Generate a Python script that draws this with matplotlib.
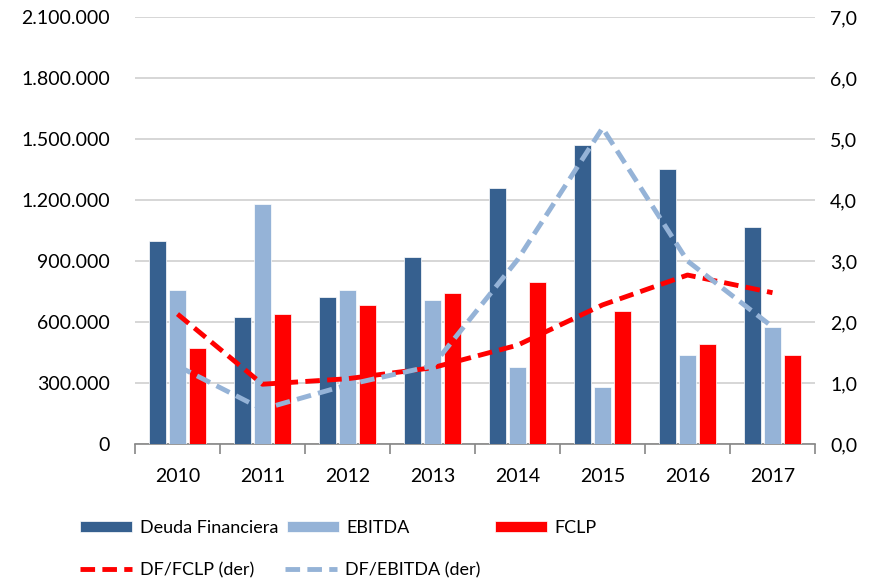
import matplotlib
matplotlib.use("Agg")
import matplotlib.pyplot as plt
import numpy as np
from matplotlib.ticker import FuncFormatter

plt.rcParams['font.family'] = ['Lato', 'DejaVu Sans']

years = ['2010', '2011', '2012', '2013', '2014', '2015', '2016', '2017']
deuda = [1000000, 625000, 722000, 920000, 1260000, 1470000, 1353000, 1067000]
ebitda = [758000, 1180000, 757000, 708000, 380000, 282000, 438000, 575000]
fclp = [472000, 640000, 684000, 743000, 797000, 654000, 490000, 438000]
df_fclp = [2.13, 0.98, 1.07, 1.25, 1.62, 2.28, 2.77, 2.48]
df_ebitda = [1.28, 0.57, 0.97, 1.28, 3.02, 5.18, 3.00, 1.92]

c_deuda = '#36608F'
c_ebitda = '#95B3D7'
c_fclp = '#FF0000'

fig = plt.figure(figsize=(8.71, 5.81), dpi=100)
ax = fig.add_axes([135/871, 1-444/581, (815-135)/871, (444-17)/581])
ax2 = ax.twinx()

x = np.arange(len(years))
w = 0.2
off = 0.235
b1 = ax.bar(x - off, deuda, w, color=c_deuda, edgecolor='white', linewidth=0.5, zorder=3, label='Deuda Financiera')
b2 = ax.bar(x, ebitda, w, color=c_ebitda, edgecolor='white', linewidth=0.5, zorder=3, label='EBITDA')
b3 = ax.bar(x + off, fclp, w, color=c_fclp, edgecolor='white', linewidth=0.5, zorder=3, label='FCLP')

l1, = ax2.plot(x, df_fclp, color=c_fclp, lw=3.5, dashes=(3, 1.5), label='DF/FCLP (der)', zorder=4)
l2, = ax2.plot(x, df_ebitda, color=c_ebitda, lw=3.5, dashes=(3, 1.5), label='DF/EBITDA (der)', zorder=4)

ax.set_xlim(-0.5, len(years) - 0.5)
ax.set_ylim(0, 2100000)
ax.set_yticks(np.arange(0, 2100001, 300000))
ax.yaxis.set_major_formatter(FuncFormatter(lambda v, p: f"{int(v):,}".replace(',', '.')))
ax2.set_ylim(0, 7)
ax2.set_yticks(np.arange(0, 7.01, 1))
ax2.yaxis.set_major_formatter(FuncFormatter(lambda v, p: f"{v:.1f}".replace('.', ',')))

ax.grid(axis='y', color='#D0D0D0', lw=1.2, zorder=0)
ax.set_axisbelow(True)
for a in (ax, ax2):
    for s in ['top', 'left', 'right', 'bottom']:
        a.spines[s].set_visible(False)
ax.spines['bottom'].set_visible(True)
ax.spines['bottom'].set_color('#868686')
ax.spines['bottom'].set_linewidth(1.2)

ax.set_xticks(x)
ax.set_xticklabels(years)
ax.set_xticks(np.arange(-0.5, len(years), 1), minor=True)
ax.tick_params(axis='x', which='major', length=0, pad=17, labelsize=14, colors='#000000')
ax.tick_params(axis='x', which='minor', length=7, width=1.2, color='#868686', direction='out')
ax.tick_params(axis='y', length=0, pad=18, labelsize=14)
ax2.tick_params(axis='y', length=0, pad=11, labelsize=14)

# legend entries placed individually (x of handle start, y of row centre in px)
entries = [(b1, 80, 528), (b2, 287, 528), (b3, 495, 528), (l1, 80, 570), (l2, 285, 570)]
for h, px, py in entries:
    fig.legend([h], [h.get_label()], loc='center left', frameon=False,
               bbox_to_anchor=(px/871, 1 - py/581), borderaxespad=0, borderpad=0,
               fontsize=13, handlelength=2.9, handleheight=0.55, handletextpad=0.4)

fig.savefig('out.png', dpi=100)
